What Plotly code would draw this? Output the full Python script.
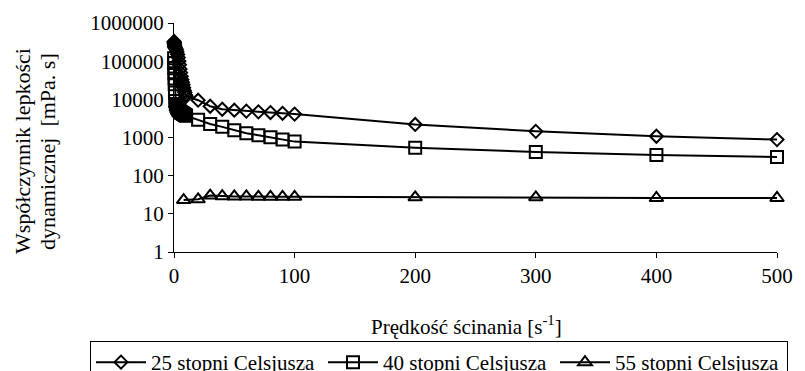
import plotly.graph_objects as go

# Shear rate [1/s] and dynamic viscosity [mPa.s]
x_25 = [0.1, 0.2, 0.3, 0.4, 0.5, 0.6, 0.8, 1, 1.5, 2, 2.5, 3, 3.5, 4, 4.5, 5, 5.5, 6,
        6.5, 7, 7.5, 8, 8.5, 9, 9.5, 10,
        20, 30, 40, 50, 60, 70, 80, 90, 100, 200, 300, 400, 500]
y_25 = [330000, 310000, 290000, 270000, 250000, 240000, 230000, 220000, 210000, 200000,
        175000, 150000, 125000, 100000, 80000, 62000, 50000, 40000, 33000, 28000, 24000,
        20000, 17000, 15000, 13000, 12000,
        9500, 6600, 5500, 5200, 4900, 4700, 4500, 4300, 4100, 2200, 1450, 1080, 880]

x_40 = [0.1, 0.2, 0.3, 0.4, 0.5, 0.6, 0.8, 1, 1.5, 2, 2.5, 3, 3.5, 4, 4.5, 5, 5.5, 6,
        6.5, 7, 7.5, 8, 8.5, 9, 9.5, 10,
        20, 30, 40, 50, 60, 70, 80, 90, 100, 200, 300, 400, 500]
y_40 = [120000, 90000, 65000, 48000, 35000, 25000, 15000, 9000, 7500, 6800, 6200, 5800,
        5500, 5200, 5000, 4800, 4600, 4500, 4400, 4300, 4200, 4100, 4000, 3900, 3800, 3700,
        2900, 2250, 1900, 1560, 1300, 1150, 1020, 880, 780, 540, 420, 350, 310]

x_55 = [8, 20, 30, 40, 50, 60, 70, 80, 90, 100, 200, 300, 400, 500]
y_55 = [23, 24, 30, 29, 28.5, 28.5, 28, 28, 28, 28, 27, 27, 26, 26]

names = ["25 stopni Celsjusza", "40 stopni Celsjusza", "55 stopni Celsjusza"]
x_ticks = [0, 100, 200, 300, 400, 500]
y_ticks = [1, 10, 100, 1000, 10000, 100000, 1000000]
y_ticktext = ["1", "10", "100", "1000", "10000", "100000", "1000000"]

FONT = "Liberation Serif, Times New Roman, DejaVu Serif, serif"

fig = go.Figure()
series = [(x_25, y_25, "diamond-open", 10),
          (x_40, y_40, "square-open", 12),
          (x_55, y_55, "triangle-up-open", 12)]
for (xs, ys, sym, sz), nm in zip(series, names):
    fig.add_trace(go.Scatter(
        x=xs, y=ys, name=nm, mode="lines+markers",
        line=dict(color="black", width=2),
        marker=dict(symbol=sym, size=sz, color="black",
                    line=dict(color="black", width=2)),
        cliponaxis=False,
    ))

fig.update_layout(
    width=805, height=371,
    margin=dict(l=174, r=28, t=23, b=119, autoexpand=False),
    paper_bgcolor="white", plot_bgcolor="white",
    font=dict(family=FONT, size=21, color="black"),
    showlegend=True,
    legend=dict(orientation="h", xref="paper", yref="paper",
                x=(90 - 174) / 603, y=(252 - 341) / 229, xanchor="left", yanchor="top",
                bordercolor="black", borderwidth=1, bgcolor="white",
                font=dict(family=FONT, size=21, color="black"),
                itemwidth=50, entrywidth=167, entrywidthmode="pixels"),
    xaxis=dict(range=[0, 500], tickvals=x_ticks, showgrid=False, zeroline=False,
               showline=True, linecolor="black", linewidth=1,
               ticks="outside", ticklen=5, tickcolor="black",
               tickfont=dict(family=FONT, size=21, color="black")),
    yaxis=dict(type="log", range=[0, 6], tickvals=y_ticks, ticktext=y_ticktext,
               ticksuffix="\u00a0\u00a0",
               showgrid=False, zeroline=False,
               showline=True, linecolor="black", linewidth=1,
               ticks="outside", ticklen=5, tickcolor="black",
               tickfont=dict(family=FONT, size=21, color="black")),
    annotations=[
        dict(text="Prędkość ścinania [s<sup>-1</sup>]", xref="paper", yref="paper",
             x=0.485, y=-0.32, xanchor="center", yanchor="middle", showarrow=False,
             font=dict(family=FONT, size=21, color="black")),
        dict(text="Współczynnik lepkości", xref="paper", yref="paper",
             x=(22 - 174) / 603, y=1 - (151 - 23) / 229, xanchor="center", yanchor="middle",
             textangle=-90, showarrow=False,
             font=dict(family=FONT, size=22, color="black")),
        dict(text="dynamicznej  [mPa. s]", xref="paper", yref="paper",
             x=(47 - 174) / 603, y=1 - (151 - 23) / 229, xanchor="center", yanchor="middle",
             textangle=-90, showarrow=False,
             font=dict(family=FONT, size=22, color="black")),
    ],
)

fig.write_html("out.html")
